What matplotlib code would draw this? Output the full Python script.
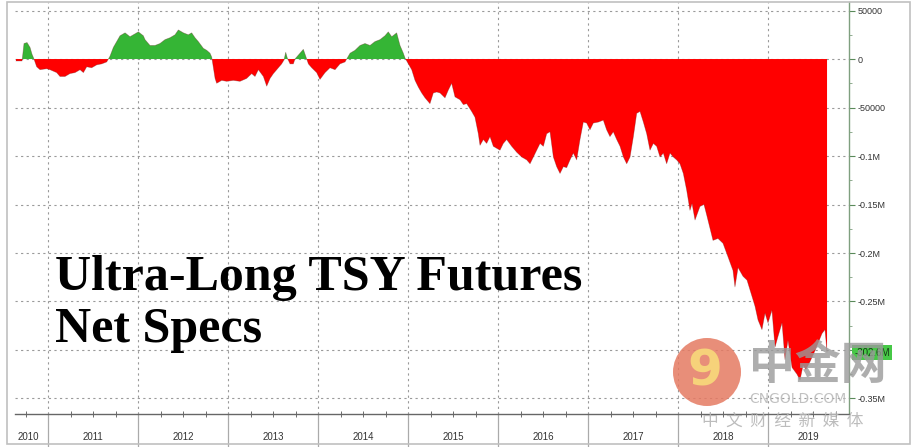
import matplotlib
matplotlib.use("Agg")
import matplotlib.pyplot as plt
import matplotlib.transforms as mtransforms
from matplotlib.patches import Rectangle, Circle
import numpy as np

# ---- data: net speculative positions (thousands of contracts), x in decimal years ----
years = [2010.644, 2010.711, 2010.72, 2010.733, 2010.767, 2010.80, 2010.822, 2010.84,
         2010.874, 2010.911, 2010.985, 2011.022, 2011.096, 2011.133, 2011.189, 2011.244,
         2011.30, 2011.356, 2011.393, 2011.43, 2011.485, 2011.541, 2011.596, 2011.652,
         2011.689, 2011.726, 2011.80, 2011.856, 2011.911, 2011.967, 2012.004, 2012.059,
         2012.078, 2012.133, 2012.189, 2012.244, 2012.30, 2012.356, 2012.411, 2012.448,
         2012.504, 2012.559, 2012.596, 2012.633, 2012.67, 2012.726, 2012.763, 2012.80,
         2012.819, 2012.856, 2012.874, 2012.93, 2012.985, 2013.059, 2013.133, 2013.207,
         2013.263, 2013.30, 2013.337, 2013.393, 2013.43, 2013.467, 2013.504, 2013.541,
         2013.596, 2013.622, 2013.641, 2013.659, 2013.689, 2013.726, 2013.744, 2013.781,
         2013.837, 2013.867, 2013.893, 2013.93, 2013.985, 2014.022, 2014.078, 2014.133,
         2014.189, 2014.244, 2014.30, 2014.356, 2014.411, 2014.467, 2014.522, 2014.578,
         2014.633, 2014.689, 2014.744, 2014.781, 2014.819, 2014.874, 2014.911, 2014.948,
         2014.967, 2015.041, 2015.078, 2015.115, 2015.152, 2015.189, 2015.244, 2015.281,
         2015.319, 2015.356, 2015.411, 2015.448, 2015.485, 2015.522, 2015.578, 2015.615,
         2015.652, 2015.707, 2015.744, 2015.781, 2015.80, 2015.837, 2015.874, 2015.911,
         2015.948, 2016.022, 2016.059, 2016.096, 2016.152, 2016.207, 2016.263, 2016.319,
         2016.356, 2016.393, 2016.43, 2016.467, 2016.504, 2016.541, 2016.578, 2016.615,
         2016.652, 2016.689, 2016.726, 2016.763, 2016.80, 2016.837, 2016.874, 2016.911,
         2016.948, 2016.985, 2017.022, 2017.059, 2017.115, 2017.17, 2017.207, 2017.244,
         2017.281, 2017.319, 2017.356, 2017.393, 2017.43, 2017.467, 2017.504, 2017.541,
         2017.578, 2017.615, 2017.652, 2017.689, 2017.726, 2017.763, 2017.80, 2017.837,
         2017.874, 2017.911, 2017.948, 2017.985, 2018.022, 2018.059, 2018.096, 2018.133,
         2018.156, 2018.189, 2018.244, 2018.289, 2018.322, 2018.389, 2018.444, 2018.50,
         2018.556, 2018.611, 2018.633, 2018.667, 2018.722, 2018.767, 2018.80, 2018.856,
         2018.889, 2018.933, 2018.967, 2019.0, 2019.044, 2019.078, 2019.111, 2019.156,
         2019.189, 2019.222, 2019.267, 2019.322, 2019.356, 2019.389, 2019.422, 2019.467,
         2019.511, 2019.556, 2019.60, 2019.633, 2019.656]
net_specs_k = [-2, -2, 5, 16, 17, 12, 5, 1,
               -8, -11, -10, -11, -14, -18, -18, -15,
               -14, -11, -14, -8, -9, -6, -5, -3,
               3, 12, 24, 27, 23, 26, 28, 24,
               20, 14, 14, 16, 20, 22, 25, 30,
               27, 25, 27, 22, 18, 11, 9, 6,
               2, -20, -25, -22, -23, -22, -23, -20,
               -15, -18, -11, -18, -28, -20, -15, -11,
               -5, -1, 7, 1, -5, -5, 0, 4,
               10, 2, -5, -9, -14, -21, -14, -9,
               -11, -5, -3, 6, 9, 14, 16, 14,
               18, 20, 24, 28, 23, 27, 14, 6,
               1, -11, -22, -29, -35, -40, -46, -35,
               -34, -35, -40, -32, -25, -39, -42, -47,
               -46, -54, -60, -77, -89, -83, -87, -80,
               -90, -94, -87, -83, -90, -96, -101, -104,
               -108, -101, -94, -87, -90, -77, -75, -101,
               -111, -118, -111, -112, -104, -97, -104, -83,
               -65, -66, -73, -66, -65, -63, -73, -80,
               -75, -83, -90, -101, -108, -101, -80, -56,
               -54, -65, -77, -94, -87, -90, -101, -97,
               -108, -97, -101, -104, -108, -118, -135, -156,
               -149, -166, -152, -150, -162, -187, -185, -190,
               -204, -218, -235, -215, -224, -228, -238, -255,
               -269, -279, -262, -272, -259, -297, -286, -272,
               -310, -290, -318, -325, -331, -316, -320, -312,
               -303, -293, -283, -279, -302]

y_ticks = [50, 0, -50, -100, -150, -200, -250, -300, -350]
# the -0.3M label is hidden under the last-value box in the reference
y_tick_labels = ["50000", "0", "-50000", "-0.1M", "-0.15M", "-0.2M", "-0.25M", "", "-0.35M"]
year_labels = [2010, 2011, 2012, 2013, 2014, 2015, 2016, 2017, 2018, 2019]
last_value = -302.6
last_label = "-302.6M"
title_lines = ["Ultra-Long TSY Futures", "Net Specs"]

W, H = 921, 447
fig = plt.figure(figsize=(W / 100, H / 100), dpi=100)
fig.patch.set_facecolor("white")

ax_left, ax_right, ax_top, ax_bot = 15, 849, 2, 414
ax = fig.add_axes([ax_left / W, 1 - ax_bot / H, (ax_right - ax_left) / W, (ax_bot - ax_top) / H])
ax.set_facecolor("white")

x = np.array(years)
v = np.array(net_specs_k, dtype=float)
ax.fill_between(x, v, 0, where=v >= 0, interpolate=True, color="#35b535", lw=0, zorder=3)
ax.fill_between(x, v, 0, where=v <= 0, interpolate=True, color="#ff0000", lw=0, zorder=3)
ax.plot(x, v, color="#6a2020", lw=0.5, alpha=0.4, zorder=4)

xmin, xmax = 2010.633, 2019.9
ax.set_xlim(xmin, xmax)
ax.set_ylim(-366, 58.8)

# grid
for t in y_ticks:
    ax.axhline(t, color="#9a9a9a", lw=0.8, ls=(0, (2, 3)), zorder=1)
for yr in year_labels[1:]:
    ax.axvline(yr, color="#9a9a9a", lw=0.8, ls=(0, (2, 3)), zorder=1)

# spines
for s in ["left", "top"]:
    ax.spines[s].set_visible(False)
ax.spines["right"].set_color("#7f9f7f")
ax.spines["bottom"].set_color("#666666")
ax.spines["right"].set_linewidth(1.0)
ax.spines["bottom"].set_linewidth(1.0)

# y axis on right
ax.yaxis.tick_right()
ax.set_yticks(y_ticks)
ax.set_yticklabels(y_tick_labels)
ax.set_yticks(np.arange(-350, 60, 25), minor=True)
ax.tick_params(axis="y", which="major", direction="out", length=4, width=0.8,
               color="#5a8a5a", labelsize=6.5, labelcolor="#333333", pad=2)
ax.tick_params(axis="y", which="minor", direction="out", length=2, width=0.6, color="#7f9f7f")
for lab in ax.get_yticklabels():
    lab.set_fontfamily("Liberation Sans")

# x axis: quarterly minor ticks, no labels
ax.set_xticks([])
quarters = [yr + q for yr in range(2010, 2020) for q in (0.25, 0.5, 0.75)]
ax.set_xticks([q for q in quarters if xmin < q < xmax], minor=True)
ax.tick_params(axis="x", which="minor", direction="inout", length=4, width=0.6, color="#555555")

# year boxes below axis
tr = mtransforms.blended_transform_factory(ax.transData, fig.transFigure)
y_bottom_fig = 1 - ax_bot / H
for yr in year_labels[1:]:
    ax.plot([yr, yr], [0.0, y_bottom_fig], transform=tr, color="#aaaaaa", lw=0.9, clip_on=False)
for yr in year_labels:
    lo = max(yr, xmin - 0.08)
    hi = min(yr + 1, xmax)
    ax.text((lo + hi) / 2, 1 - 437 / H, str(yr), transform=tr, ha="center", va="center",
            fontsize=7, color="#333333", family="Liberation Sans")

# last value label
ax.text(xmax + 0.06, last_value, last_label, transform=ax.transData, ha="left", va="center",
        fontsize=7, color="#153515", family="Liberation Sans", clip_on=False, zorder=6,
        bbox=dict(boxstyle="square,pad=0.25", fc="#46c846", ec="none"))

# title text
fig.text(55 / W, 1 - 290 / H, title_lines[0], fontsize=36, fontweight="bold",
         family="Liberation Serif", color="black", ha="left", va="baseline")
fig.text(55 / W, 1 - 342 / H, title_lines[1], fontsize=36, fontweight="bold",
         family="Liberation Serif", color="black", ha="left", va="baseline")

# watermark
circ = Circle((707, H - 372), 34, transform=mtransforms.IdentityTransform(),
              facecolor="#e57a62", edgecolor="none", alpha=0.85, zorder=10)
fig.patches.append(circ)
fig.text(705 / W, 1 - 372 / H, "9", fontsize=36, fontweight="bold", color="#f6d27a",
         ha="center", va="center", family="DejaVu Sans", zorder=11)
fig.text(818 / W, 1 - 366 / H, "中金网", fontsize=33, color="#9a9a9a", alpha=0.8,
         ha="center", va="center", family=["Noto Sans CJK SC", "DejaVu Sans"],
         fontweight="bold", zorder=11)
fig.text(798 / W, 1 - 399 / H, "CNGOLD.COM", fontsize=10, color="#bbbbbb", alpha=0.9,
         ha="center", va="center", family="DejaVu Sans", zorder=11)
fig.text(783 / W, 1 - 421 / H, "中  文  财  经  新  媒  体", fontsize=12, color="#b5b5b5",
         alpha=0.9, ha="center", va="center", family=["Noto Sans CJK SC", "DejaVu Sans"], zorder=11)

# outer border
fig.patches.append(Rectangle((7 / W, 3 / H), 903 / W, 442 / H, transform=fig.transFigure,
                             fill=False, edgecolor="#c0c0c0", lw=1.2))

fig.savefig("out.png", dpi=100)
